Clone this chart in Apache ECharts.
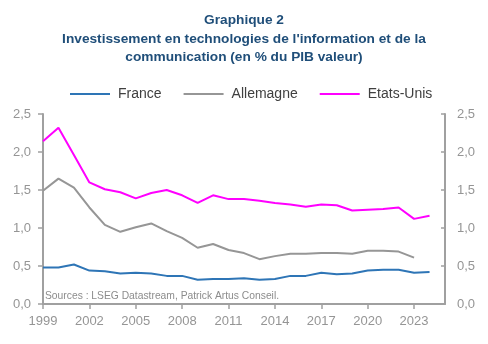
<!DOCTYPE html>
<html><head><meta charset="utf-8">
<script src="https://cdn.jsdelivr.net/npm/echarts@6/dist/echarts.min.js"></script>
<style>html,body{margin:0;padding:0;background:#fff}#c{width:488px;height:344px}</style>
</head><body><div id="c"></div>
<script>
const years = ['1999','2000','2001','2002','2003','2004','2005','2006','2007','2008','2009','2010','2011','2012','2013','2014','2015','2016','2017','2018','2019','2020','2021','2022','2023','2024','2025'];
const france = [0.48,0.48,0.52,0.44,0.43,0.40,0.41,0.40,0.37,0.37,0.32,0.33,0.33,0.34,0.32,0.33,0.37,0.37,0.41,0.39,0.40,0.44,0.45,0.45,0.41,0.42];
const allemagne = [1.49,1.65,1.53,1.27,1.04,0.95,1.01,1.06,0.96,0.87,0.74,0.79,0.71,0.67,0.59,0.63,0.66,0.66,0.67,0.67,0.66,0.70,0.70,0.69,0.61];
const etatsUnis = [2.14,2.32,1.96,1.60,1.51,1.47,1.39,1.46,1.50,1.43,1.33,1.43,1.38,1.38,1.36,1.33,1.31,1.28,1.31,1.30,1.23,1.24,1.25,1.27,1.12,1.16];
const yTicks = ['0,0','0,5','1,0','1,5','2,0','2,5'];

const chart = echarts.init(document.getElementById('c'));
const axisGray = '#A0A0A0';
const labelGray = '#959595';
const yAxisBase = {
  type: 'value', min: 0, max: 2.5, interval: 0.5,
  axisLine: {show: true, lineStyle: {color: axisGray, width: 2}},
  splitLine: {show: false},
  axisLabel: {color: labelGray, fontSize: 13, fontFamily: 'Liberation Sans', margin: 12, formatter: v => yTicks[Math.round(v*2)]}
};
chart.setOption({
  animation: false,
  title: {
    text: 'Graphique 2\nInvestissement en technologies de l\'information et de la\ncommunication (en % du PIB valeur)',
    left: 'center', top: 6,
    textStyle: {color: '#1F4E79', fontSize: 13.7, fontWeight: 'bold', fontFamily: 'Liberation Sans', lineHeight: 18.5}
  },
  legend: {
    top: 82, left: 65, itemWidth: 40, itemHeight: 2, itemGap: 22,
    icon: 'rect',
    textStyle: {color: '#404040', fontSize: 14, fontFamily: 'Liberation Sans', padding: [0,0,0,3]},
    data: ['France','Allemagne','Etats-Unis']
  },
  grid: {left: 43, right: 43, top: 114, bottom: 40},
  xAxis: {
    type: 'category', data: years, boundaryGap: false,
    axisLine: {lineStyle: {color: axisGray, width: 2}},
    axisTick: {show: true, interval: 2, length: 5, lineStyle: {color: axisGray, width: 1.5}},
    axisLabel: {interval: 2, color: labelGray, fontSize: 13, fontFamily: 'Liberation Sans', margin: 11}
  },
  yAxis: [
    Object.assign({}, yAxisBase, {position: 'left', axisTick: {show: true, length: 5, lineStyle: {color: axisGray, width: 1.5}}}),
    Object.assign({}, yAxisBase, {position: 'right', axisTick: {show: true, inside: true, length: 4, lineStyle: {color: axisGray, width: 1.5}}})
  ],
  graphic: [{
    type: 'text', left: 45, top: 291,
    style: {text: 'Sources : LSEG Datastream, Patrick Artus Conseil.', fill: '#8C8C8C', fontSize: 10.3, fontFamily: 'Liberation Sans'}
  }],
  series: [
    {name: 'France', type: 'line', data: france, symbol: 'none', lineStyle: {color: '#2E75B6', width: 2}, itemStyle: {color: '#2E75B6'}},
    {name: 'Allemagne', type: 'line', data: allemagne, symbol: 'none', lineStyle: {color: '#969696', width: 2}, itemStyle: {color: '#969696'}},
    {name: 'Etats-Unis', type: 'line', data: etatsUnis, symbol: 'none', lineStyle: {color: '#FF00FF', width: 2}, itemStyle: {color: '#FF00FF'}}
  ]
});
</script></body></html>
